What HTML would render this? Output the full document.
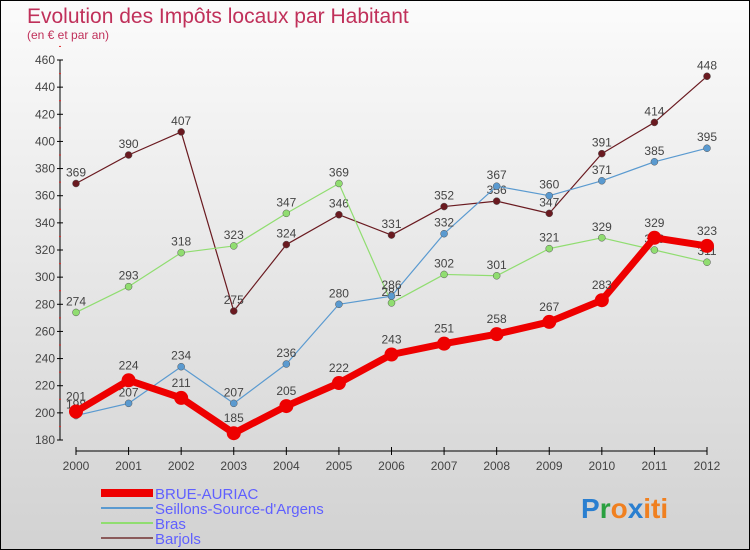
<!DOCTYPE html>
<html><head><meta charset="utf-8"><style>
html,body{margin:0;padding:0}
body{width:750px;height:550px;overflow:hidden;font-family:"Liberation Sans",sans-serif}
#wrap{position:relative;width:748px;height:548px;border:1px solid #000;background:linear-gradient(#fbfbfb,#d2d2d2)}
</style></head><body>
<div id="wrap">
<svg id="chart" width="748" height="548" style="position:absolute;left:0;top:0">
<text x="26" y="22" font-size="21" fill="#c0305a">Evolution des Impôts locaux par Habitant</text>
<text x="26" y="38" font-size="12" fill="#c0305a">(en € et par an)</text>
<g id="axes"></g><g id="series"></g><g id="legend"></g>
<text x="580" y="517" font-size="28" font-weight="bold"><tspan fill="#2a7fd0">P</tspan><tspan fill="#2aa040">r</tspan><tspan fill="#f08020">o</tspan><tspan fill="#2a7fd0">x</tspan><tspan fill="#f08020">iti</tspan></text>
</svg>
</div>
<script>
const years=[2000,2001,2002,2003,2004,2005,2006,2007,2008,2009,2010,2011,2012];
const yTicks=[180,200,220,240,260,280,300,320,340,360,380,400,420,440,460];
const brue=[201,224,211,185,205,222,243,251,258,267,283,329,323];
const seillons=[198,207,234,207,236,280,286,332,367,360,371,385,395];
const bras=[274,293,318,323,347,369,281,302,301,321,329,320,311];
const barjols=[369,390,407,275,324,346,331,352,356,347,391,414,448];
const NS="http://www.w3.org/2000/svg";
function xs(i){return 75+i*(631/12);}
function ys(v){return 439-(v-180)*(380/280);}
function mk(tag,attrs,parent,txt){const e=document.createElementNS(NS,tag);for(const k in attrs)e.setAttribute(k,attrs[k]);if(txt!==undefined)e.textContent=txt;parent.appendChild(e);return e;}
const axes=document.getElementById('axes');
let e=mk('line',{x1:59,y1:ys(460),x2:59,y2:ys(180),stroke:'#000'},axes);


yTicks.forEach(t=>{
 mk('line',{x1:56,y1:ys(t),x2:62,y2:ys(t),stroke:'#000'},axes);
 mk('line',{x1:58,y1:ys(t+10),x2:60,y2:ys(t+10),stroke:'#e03030'},axes);
 const l=mk('text',{x:54,y:ys(t)+4,'font-size':12,'text-anchor':'end',fill:'#444'},axes,t);
 
 
});
e=mk('line',{x1:xs(0),y1:450,x2:xs(12),y2:450,stroke:'#000'},axes);


years.forEach((y,i)=>{
 mk('line',{x1:xs(i),y1:446,x2:xs(i),y2:454,stroke:'#000'},axes);
 const l=mk('text',{x:xs(i),y:469,'font-size':12,'text-anchor':'middle',fill:'#444'},axes,y);
 
 
});
const ser=document.getElementById('series');
const defs=[
 {d:barjols,c:'#6a1a20',w:1.2,r:3.5,n:'barjols'},
 {d:bras,c:'#90dd70',w:1.2,r:3.5,n:'bras'},
 {d:seillons,c:'#5a9ad0',w:1.2,r:3.5,n:'seillons'},
 {d:brue,c:'#ee0000',w:7,r:7,n:'brue-auriac'}];
defs.forEach(s=>{
 const g=mk('g',{},ser);
 
 
 const p=mk('polyline',{points:s.d.map((v,i)=>xs(i)+','+ys(v)).join(' '),fill:'none',stroke:s.c,'stroke-width':s.w,'stroke-linejoin':'round'},g);
 
 
 s.d.forEach((v,i)=>{
  const c=mk('circle',{cx:xs(i),cy:ys(v),r:s.r,fill:s.c,stroke:s.w>2?'none':'#555','stroke-width':0.5},g);
  
  
  const t=mk('text',{x:xs(i),y:ys(v)-(s.w>2?11:7),'font-size':12,'text-anchor':'middle',fill:'#444'},g,v);
  
  
 });
});
const leg=document.getElementById('legend');
const items=[['BRUE-AURIAC','#ee0000',8],['Seillons-Source-d\'Argens','#5a9ad0',2],['Bras','#90dd70',2],['Barjols','#8a5a5a',2]];
items.forEach((it,k)=>{
 const y=492+k*15;
 const g=mk('g',{},leg);
 
 
 mk('line',{x1:100,y1:y,x2:152,y2:y,stroke:it[1],'stroke-width':it[2]},g);
 mk('text',{x:154,y:y+6,'font-size':15,fill:'#6060ff'},g,it[0]);
});
</script>
</body></html>
